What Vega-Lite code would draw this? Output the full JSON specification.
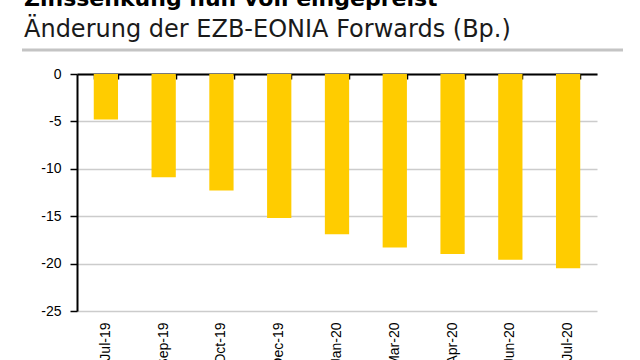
{
  "$schema": "https://vega.github.io/schema/vega-lite/v6.json",
  "autosize": "none",
  "width": 520,
  "height": 237,
  "padding": {"left": 77, "top": 74, "right": 43, "bottom": 49},
  "background": "white",
  "config": {"view": {"stroke": null}},
  "title": {
    "text": "Zinssenkung nun voll eingepreist",
    "subtitle": "Änderung der EZB-EONIA Forwards (Bp.)",
    "anchor": "start",
    "frame": "group",
    "dx": -53,
    "offset": 6,
    "font": "DejaVu Sans",
    "fontSize": 22,
    "fontWeight": "bold",
    "color": "#000000",
    "subtitleFont": "DejaVu Sans",
    "subtitleFontSize": 24,
    "subtitleColor": "#1a1a1a",
    "subtitlePadding": 7
  },
  "data": {
    "values": [
      {"month": "Jul-19", "change": -4.8},
      {"month": "Sep-19", "change": -10.9},
      {"month": "Oct-19", "change": -12.3},
      {"month": "Dec-19", "change": -15.2},
      {"month": "Jan-20", "change": -16.9},
      {"month": "Mar-20", "change": -18.3},
      {"month": "Apr-20", "change": -19.0},
      {"month": "Jun-20", "change": -19.6},
      {"month": "Jul-20", "change": -20.5}
    ]
  },
  "resolve": {"axis": {"x": "independent"}},
  "layer": [
    {
      "mark": {"type": "bar", "color": "#FFCC00"},
      "encoding": {
        "x": {
          "field": "month",
          "type": "nominal",
          "sort": null,
          "scale": {"paddingInner": 0.58, "paddingOuter": 0.29},
          "axis": {
            "orient": "bottom",
            "title": null,
            "domain": false,
            "ticks": false,
            "grid": false,
            "labelAngle": -90,
            "labelPadding": 11,
            "labelFont": "Liberation Sans",
            "labelFontSize": 14,
            "labelColor": "#000000"
          }
        },
        "y": {
          "field": "change",
          "type": "quantitative",
          "scale": {"domain": [-25, 0], "nice": false},
          "axis": {
            "title": null,
            "values": [0, -5, -10, -15, -20, -25],
            "labelExpr": "'' + datum.value",
            "domainColor": "#000000",
            "domainWidth": 2,
            "tickColor": "#000000",
            "tickWidth": 1.5,
            "tickSize": 7,
            "labelPadding": 9,
            "labelFont": "Liberation Sans",
            "labelFontSize": 14,
            "labelColor": "#000000",
            "gridColor": "#cccccc",
            "gridWidth": 1.5
          }
        }
      }
    },
    {
      "mark": {"type": "rule", "opacity": 0},
      "encoding": {
        "x": {
          "field": "month",
          "type": "nominal",
          "sort": null,
          "axis": {
            "orient": "top",
            "title": null,
            "labels": false,
            "grid": false,
            "domainColor": "#000000",
            "domainWidth": 2,
            "tickColor": "#000000",
            "tickWidth": 1.5,
            "tickSize": -5,
            "tickBand": "extent"
          }
        }
      }
    },
    {
      "data": {"values": [{"v": 0}]},
      "mark": {"type": "rule", "color": "#c4c4c4", "strokeWidth": 3, "yOffset": -24, "x": -55, "x2": 546},
      "encoding": {"y": {"datum": 0}}
    }
  ]
}
